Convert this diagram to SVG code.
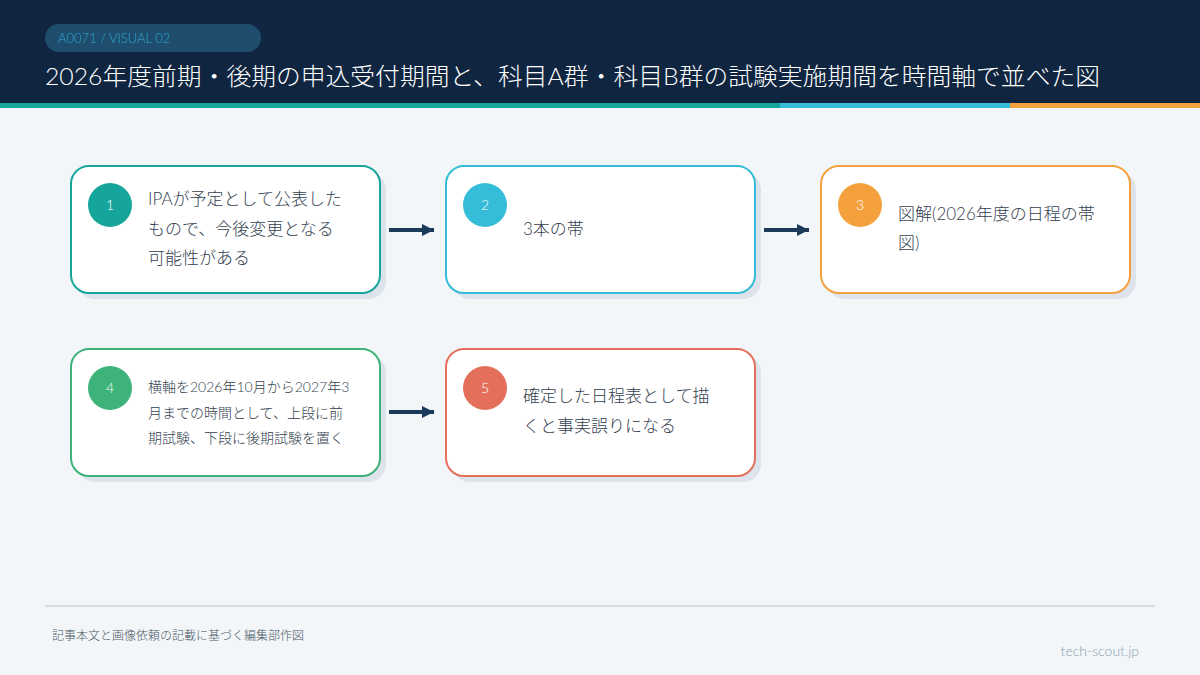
<svg xmlns="http://www.w3.org/2000/svg" width="1200" height="675" viewBox="0 0 1200 675">
<defs>
<style>
text{font-family:Lato,"Noto Sans CJK JP",sans-serif;font-weight:300}
.card{fill:#fff;stroke-width:2}
.sh{fill:#dde3ea}
.t{font-size:17px;fill:#33414f}
.ts{font-size:14px;fill:#33414f}
.n{font-size:14px;fill:#fff;text-anchor:middle}
.conn{stroke:#1b3a5a;stroke-width:4}
</style>
<marker id="ah" markerWidth="4" markerHeight="4" refX="3" refY="2" orient="auto" markerUnits="strokeWidth"><path d="M0,0.5 L3,2 L0,3.5Z" fill="#1b3a5a"/></marker>
</defs>
<rect width="1200" height="675" fill="#f3f6f9"/>
<rect width="1200" height="103" fill="#10253f"/>
<rect y="103" width="780" height="5" fill="#16a59a"/>
<rect x="780" y="103" width="230" height="5" fill="#35bcd8"/>
<rect x="1010" y="103" width="190" height="5" fill="#f4a13d"/>
<rect x="45" y="24" width="216" height="28" rx="14" fill="#1e4d6d"/>
<text x="58" y="43" font-size="13" fill="#2ea6c8">A0071 / VISUAL 02</text>
<text x="45" y="85" font-size="24" fill="#fff" textLength="1055" lengthAdjust="spacingAndGlyphs">2026年度前期・後期の申込受付期間と、科目A群・科目B群の試験実施期間を時間軸で並べた図</text>
<g id="connectors">
<line class="conn" x1="389" y1="230" x2="434" y2="230" marker-end="url(#ah)"/>
<line class="conn" x1="764" y1="230" x2="809" y2="230" marker-end="url(#ah)"/>
<line class="conn" x1="389" y1="412" x2="434" y2="412" marker-end="url(#ah)"/>
</g>
<g id="n1"><rect class="sh" x="77" y="172" width="309" height="127" rx="18"/><rect class="card" x="71" y="166" width="309" height="127" rx="18" stroke="#16a59a"/><circle cx="110" cy="205" r="22" fill="#16a59a"/><text class="n" x="110" y="210">1</text>
<text class="t"><tspan x="148" y="205">IPAが予定として公表した</tspan><tspan x="148" y="235">もので、今後変更となる</tspan><tspan x="148" y="264">可能性がある</tspan></text></g>
<g id="n2"><rect class="sh" x="452" y="172" width="309" height="127" rx="18"/><rect class="card" x="446" y="166" width="309" height="127" rx="18" stroke="#35bcd8"/><circle cx="485" cy="205" r="22" fill="#35bcd8"/><text class="n" x="485" y="210">2</text>
<text class="t" x="523" y="235">3本の帯</text></g>
<g id="n3"><rect class="sh" x="827" y="172" width="309" height="127" rx="18"/><rect class="card" x="821" y="166" width="309" height="127" rx="18" stroke="#f4a13d"/><circle cx="860" cy="205" r="22" fill="#f4a13d"/><text class="n" x="860" y="210">3</text>
<text class="t"><tspan x="898" y="220">図解(2026年度の日程の帯</tspan><tspan x="898" y="249">図)</tspan></text></g>
<g id="n4"><rect class="sh" x="77" y="355" width="309" height="127" rx="18"/><rect class="card" x="71" y="349" width="309" height="127" rx="18" stroke="#3db37a"/><circle cx="110" cy="388" r="22" fill="#3db37a"/><text class="n" x="110" y="393">4</text>
<text class="ts"><tspan x="148" y="392">横軸を2026年10月から2027年3</tspan><tspan x="148" y="418">月までの時間として、上段に前</tspan><tspan x="148" y="443">期試験、下段に後期試験を置く</tspan></text></g>
<g id="n5"><rect class="sh" x="452" y="355" width="309" height="127" rx="18"/><rect class="card" x="446" y="349" width="309" height="127" rx="18" stroke="#e4705c"/><circle cx="485" cy="388" r="22" fill="#e4705c"/><text class="n" x="485" y="393">5</text>
<text class="t"><tspan x="523" y="402">確定した日程表として描</tspan><tspan x="523" y="432">くと事実誤りになる</tspan></text></g>
<line x1="45" y1="606" x2="1155" y2="606" stroke="#d5dde4" stroke-width="2"/>
<text x="52" y="640" font-size="12" fill="#4a5866">記事本文と画像依頼の記載に基づく編集部作図</text>
<text x="1139" y="656" font-size="14" fill="#8aa0b0" text-anchor="end">tech-scout.jp</text>
</svg>
